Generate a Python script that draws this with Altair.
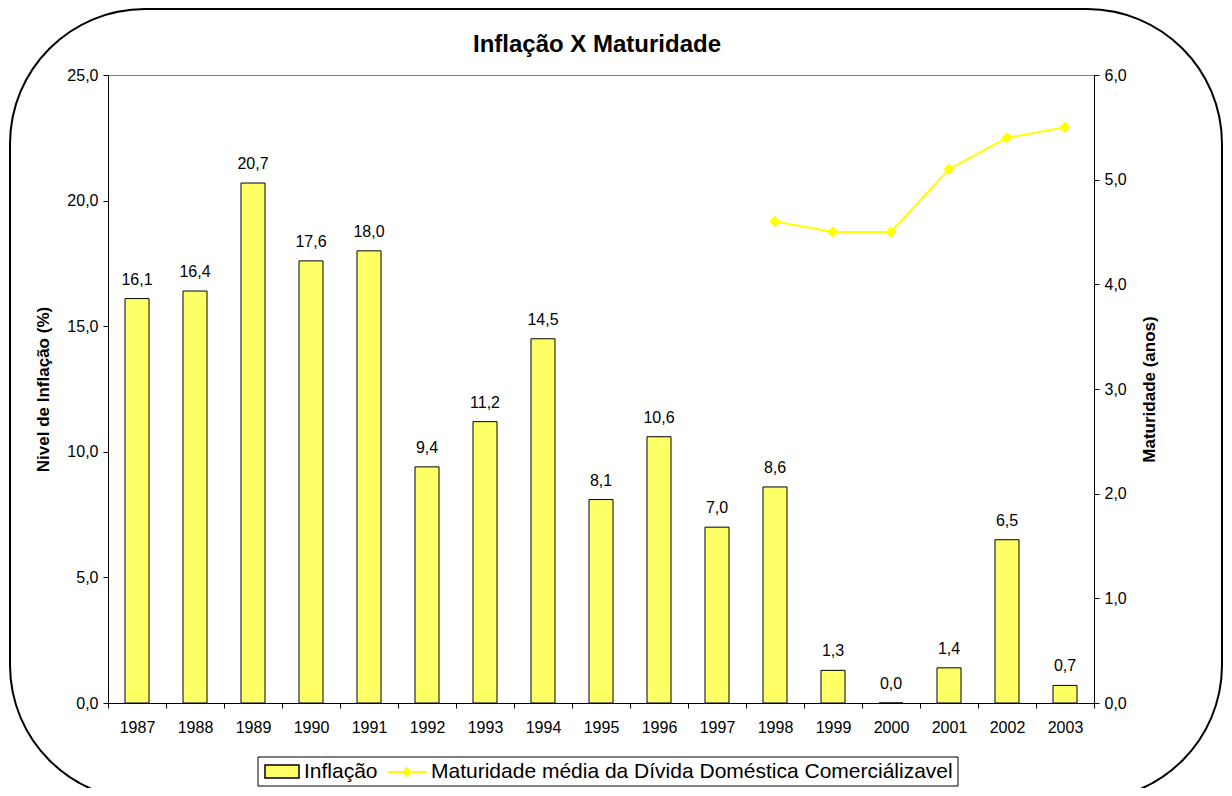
import altair as alt
import pandas as pd

# ---- data ----
years = [str(y) for y in range(1987, 2004)]
inflacao = [16.1, 16.4, 20.7, 17.6, 18.0, 9.4, 11.2, 14.5, 8.1, 10.6, 7.0, 8.6, 1.3, 0.0, 1.4, 6.5, 0.7]
mat_years = ["1998", "1999", "2000", "2001", "2002", "2003"]
maturidade = [4.6, 4.5, 4.5, 5.1, 5.4, 5.5]
left_ticks = [0, 5, 10, 15, 20, 25]
right_ticks = [0, 1, 2, 3, 4, 5, 6]

W, H = 986, 628
FONT = "Liberation Sans"
BAR = "#FFFF66"
LINE = "#FFFF00"
fmt = "replace(format(datum.value, '.1f'), '.', ',')"

bars_df = pd.DataFrame({"ano": years, "inflacao": inflacao})
mat_df = pd.DataFrame({"ano": mat_years, "maturidade": maturidade})
one = pd.DataFrame({"k": [0]})

x_enc = alt.X(
    "ano:N",
    sort=years,
    scale=alt.Scale(domain=years, paddingInner=0, paddingOuter=0),
    axis=alt.Axis(title=None, labelAngle=0, tickBand="extent", tickSize=5,
                  labelPadding=11, labelFontSize=16),
)
y_left = alt.Y(
    "inflacao:Q",
    scale=alt.Scale(domain=[0, 25], nice=False, zero=True),
    axis=alt.Axis(values=left_ticks, labelExpr=fmt, title="Nivel de Inflação (%)",
                  orient="left", grid=False, tickSize=5, labelPadding=5,
                  titlePadding=14, titleFontSize=17, labelFontSize=16),
)

bars = alt.Chart(bars_df).mark_bar(size=24, color=BAR, stroke="black", strokeWidth=1).encode(
    x=x_enc, y=y_left
)
labels = alt.Chart(bars_df).transform_calculate(
    lab="replace(format(datum.inflacao, '.1f'), '.', ',')"
).mark_text(font=FONT, fontSize=16, dy=-19, baseline="middle", color="black").encode(
    x=alt.X("ano:N", sort=years), y=alt.Y("inflacao:Q"), text="lab:N"
)
left_layer = alt.layer(bars, labels)

mat_y = alt.Y("maturidade:Q",
              scale=alt.Scale(domain=[0, 6], nice=False),
              axis=alt.Axis(values=right_ticks, labelExpr=fmt, title="Maturidade (anos)",
                            orient="right", grid=False, tickSize=5, labelPadding=5,
                            titleAngle=270, titleBaseline="bottom",
                            titlePadding=32, titleFontSize=17, labelFontSize=16))
line = alt.Chart(mat_df).mark_line(color=LINE, strokeWidth=2).encode(
    x=alt.X("ano:N", sort=years), y=mat_y)
pts = alt.Chart(mat_df).mark_point(shape="diamond", filled=True, color=LINE, size=130,
                                   opacity=1).encode(
    x=alt.X("ano:N", sort=years), y=alt.Y("maturidade:Q"))
right_layer = alt.layer(line, pts)

# ---- decorations: title, rounded frame, legend ----
title = alt.Chart(one).mark_text(font=FONT, fontSize=24, fontWeight="bold", color="black",
                                 baseline="middle", align="center").encode(
    x=alt.value(W / 2 - 4), y=alt.value(-30), text=alt.value("Inflação X Maturidade"))

frame = alt.Chart(one).mark_rect(cornerRadius=135, fillOpacity=0, stroke="black",
                                 strokeWidth=2).encode(
    x=alt.value(-98), x2=alt.value(1114), y=alt.value(-66), y2=alt.value(725))

leg_box = alt.Chart(one).mark_rect(fill="white", stroke="black", strokeWidth=1).encode(
    x=alt.value(150), x2=alt.value(850), y=alt.value(682), y2=alt.value(711))
leg_sw = alt.Chart(one).mark_rect(fill=BAR, stroke="black", strokeWidth=1.5).encode(
    x=alt.value(157), x2=alt.value(191), y=alt.value(690), y2=alt.value(703))
leg_t1 = alt.Chart(one).mark_text(font=FONT, fontSize=21, align="left", baseline="middle",
                                  color="black").encode(
    x=alt.value(196), y=alt.value(697), text=alt.value("Inflação"))
leg_ln = alt.Chart(one).mark_rule(color=LINE, strokeWidth=2).encode(
    x=alt.value(280), x2=alt.value(319), y=alt.value(697))
leg_pt = alt.Chart(one).mark_point(shape="diamond", filled=True, color=LINE, size=110,
                                   opacity=1).encode(
    x=alt.value(299), y=alt.value(697))
leg_t2 = alt.Chart(one).mark_text(font=FONT, fontSize=21, align="left", baseline="middle",
                                  color="black").encode(
    x=alt.value(323), y=alt.value(697),
    text=alt.value("Maturidade média da Dívida Doméstica Comerciálizavel"))

chart = alt.layer(
    frame, left_layer, right_layer, title, leg_box, leg_sw, leg_t1, leg_ln, leg_pt, leg_t2
).resolve_scale(y="independent").properties(
    width=W, height=H,
    autosize=alt.AutoSizeParams(type="none"),
    padding={"left": 100, "top": 67, "right": 130, "bottom": 85},
).configure_view(
    stroke="#808080", strokeWidth=1
).configure_axis(
    domainColor="black", tickColor="black", labelColor="black", titleColor="black",
    labelFont=FONT, titleFont=FONT, titleFontWeight="bold", domainWidth=1, tickWidth=1,
)

chart.save("out.html", embed_options={"renderer": "svg", "actions": False})
